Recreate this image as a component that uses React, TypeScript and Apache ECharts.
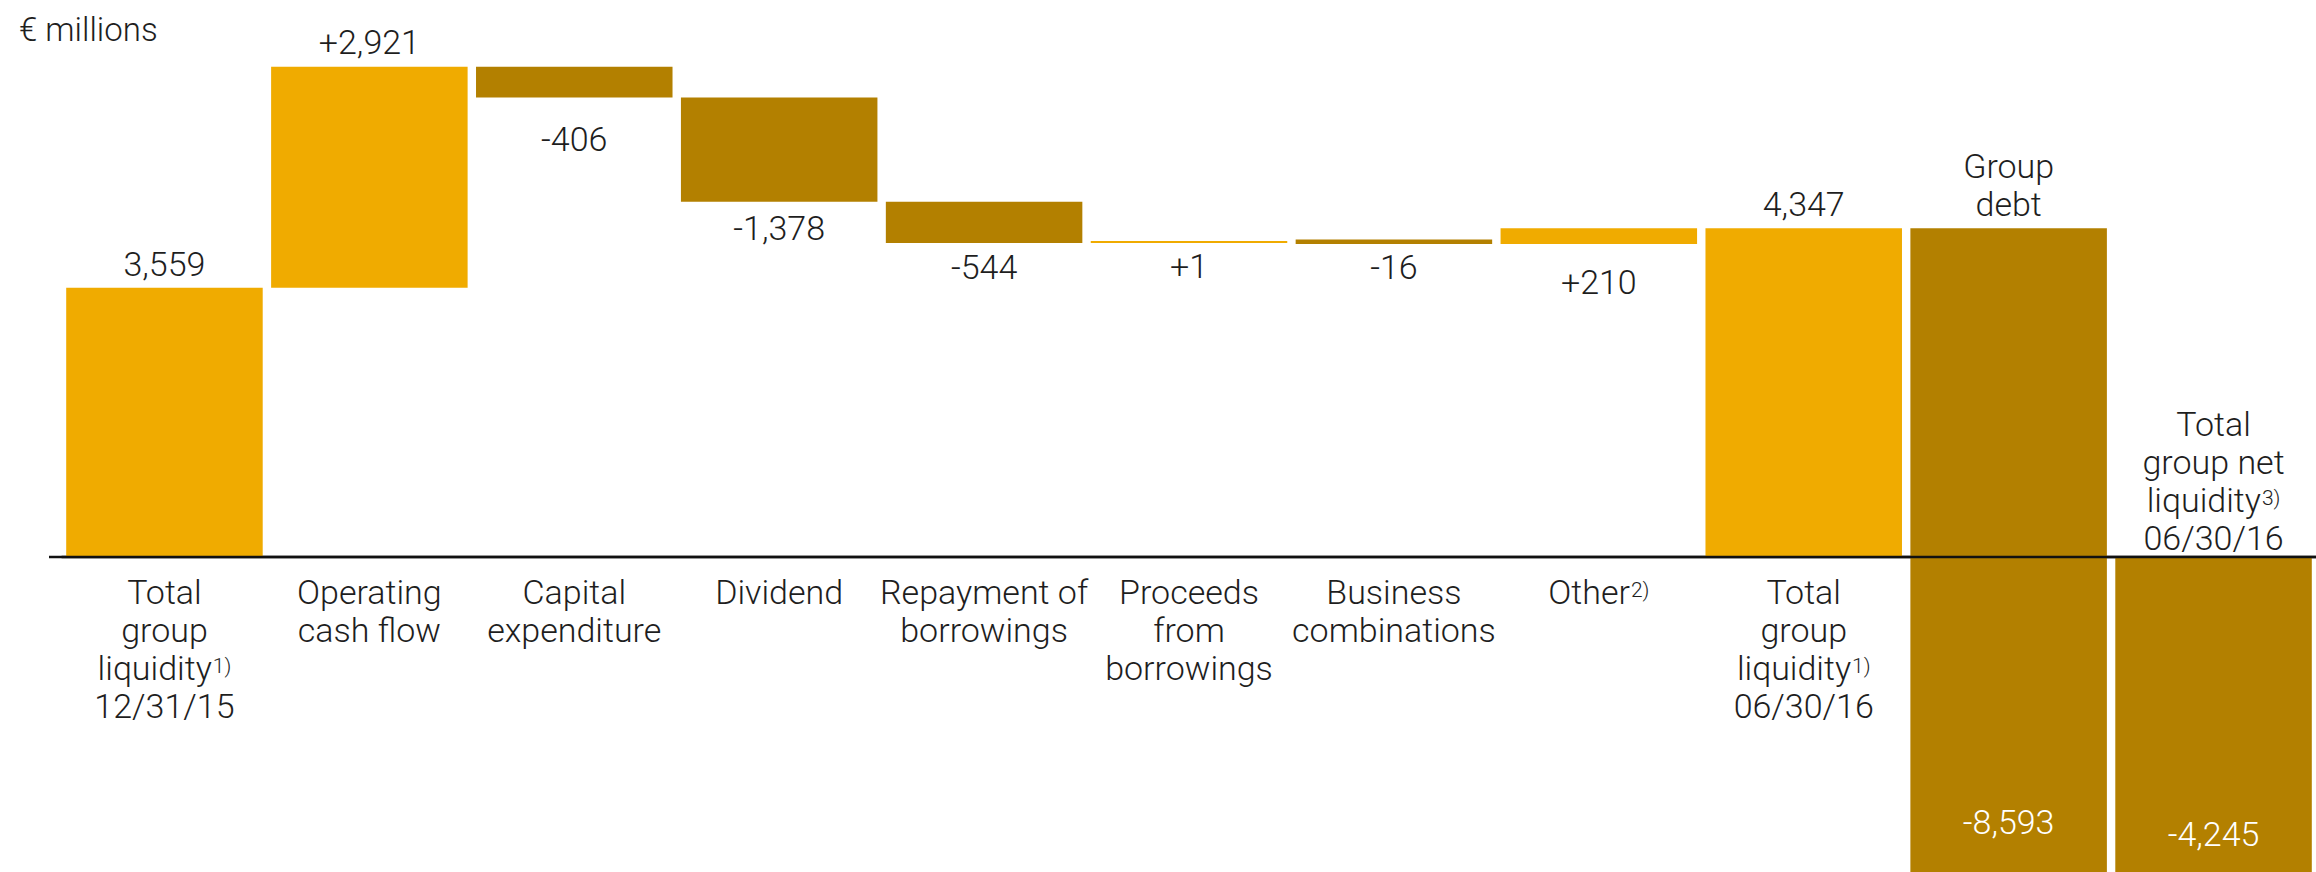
import React, { useEffect, useRef } from 'react';
import * as echarts from 'echarts';

// ---- data ----
const categoryNames = [
  'Total group liquidity 12/31/15',
  'Operating cash flow',
  'Capital expenditure',
  'Dividend',
  'Repayment of borrowings',
  'Proceeds from borrowings',
  'Business combinations',
  'Other',
  'Total group liquidity 06/30/16',
  'Group debt',
  'Total group net liquidity 06/30/16',
];
const axisLabels = [
  'Total\ngroup\nliquidity{s|1)}\n12/31/15',
  'Operating\ncash flow',
  'Capital\nexpenditure',
  'Dividend',
  'Repayment of\nborrowings',
  'Proceeds\nfrom\nborrowings',
  'Business\ncombinations',
  'Other{s|2)}',
  'Total\ngroup\nliquidity{s|1)}\n06/30/16',
  '',
  '',
];
const topLabels = ['', '', '', '', '', '', '', '', '', 'Group\ndebt', 'Total\ngroup net\nliquidity{s|3)}\n06/30/16'];
const values = [3559, 2921, -406, -1378, -544, 1, -16, 210, 4347, -8593, -4245];
const kinds = ['total', 'delta', 'delta', 'delta', 'delta', 'delta', 'delta', 'delta', 'total', 'delta', 'total'];

// ---- label placement / styling (not data) ----
const labelPlace = ['above', 'above', 'below', 'below', 'below', 'below', 'below', 'below', 'above', 'inside', 'inside'];
const labelGap = [5, 6, 22, 7, 5, 4, 4, 19, 5, 37, 25];
const minBarPx = [0, 0, 0, 0, 0, 2, 4.5, 0, 0, 0, 0];

const LIGHT = '#F0AB00';
const DARK = '#B38000';
const TEXT = '#1e1e1e';
const FONT = 'Roboto';
const FW = 300;
const FS = 34;
const LH = 38;

function fmt(v: number, kind: string) {
  const s = Math.abs(v).toLocaleString('en-US');
  if (v < 0) return '-' + s;
  return kind === 'delta' ? '+' + s : s;
}

export default function App() {
  const ref = useRef<HTMLDivElement>(null);
  useEffect(() => {
    if (!ref.current) return;
    const chart = echarts.init(ref.current, null, { renderer: 'svg' });

    let run = 0;
    const bars = values.map((v, i) => {
      let low: number, high: number;
      if (kinds[i] === 'total') {
        low = Math.min(0, v);
        high = Math.max(0, v);
        run = v;
      } else {
        const end = run + v;
        low = Math.min(run, end);
        high = Math.max(run, end);
        run = end;
      }
      return [i, low, high, v];
    });

    const rich = {
      s: { fontSize: 21, fontFamily: FONT, fontWeight: FW, fill: TEXT, color: TEXT, padding: [0, 0, 4, 1] },
    };

    chart.setOption({
      animation: false,
      title: {
        text: '€ millions',
        left: 14,
        top: 8,
        textStyle: { fontSize: 33, fontWeight: FW, fontFamily: FONT, color: TEXT },
      },
      grid: { left: 62, width: 2254, top: 27.5, height: 907.7, outerBoundsMode: 'none' },
      xAxis: {
        type: 'category',
        data: categoryNames,
        axisLine: { show: true, onZero: true, lineStyle: { color: '#111', width: 2.4 } },
        axisTick: { show: false },
        axisLabel: { show: false },
      },
      yAxis: { type: 'value', min: -5000, max: 7000, show: false },
      series: [
        {
          type: 'custom',
          clip: false,
          encode: { x: 0, y: [1, 2] },
          data: bars,
          renderItem: (params: any, api: any) => {
            const idx = params.dataIndex;
            const i = api.value(0);
            const low = api.value(1);
            const high = api.value(2);
            const v = api.value(3);
            const pTop = api.coord([i, high]);
            const pBot = api.coord([i, low]);
            const pZero = api.coord([i, 0]);
            const w = api.size([1, 0])[0] * 0.959;
            let y0 = pTop[1];
            const y1 = pBot[1];
            if (y1 - y0 < minBarPx[idx]) y0 = y1 - minBarPx[idx];
            const cx = pTop[0];
            const children: any[] = [
              {
                type: 'rect',
                shape: { x: cx - w / 2, y: y0, width: w, height: y1 - y0 },
                style: { fill: v >= 0 ? LIGHT : DARK },
              },
            ];
            const place = labelPlace[idx];
            const gap = labelGap[idx];
            const txtStyle = {
              fontSize: FS,
              fontWeight: FW,
              fontFamily: FONT,
              lineHeight: LH,
              align: 'center',
            };
            const label = fmt(values[idx], kinds[idx]);
            if (place === 'above') {
              children.push({ type: 'text', x: cx, y: y0 - gap, style: { ...txtStyle, text: label, fill: TEXT, verticalAlign: 'bottom' } });
            } else if (place === 'below') {
              children.push({ type: 'text', x: cx, y: y1 + gap, style: { ...txtStyle, text: label, fill: TEXT, verticalAlign: 'top' } });
            } else {
              children.push({ type: 'text', x: cx, y: Math.min(y1, 878) - gap, style: { ...txtStyle, text: label, fill: '#ffffff', verticalAlign: 'bottom' } });
            }
            if (topLabels[idx]) {
              children.push({
                type: 'text',
                x: cx,
                y: y0 - (idx === 10 ? 0 : 5),
                style: { ...txtStyle, text: topLabels[idx], fill: TEXT, verticalAlign: 'bottom', rich },
              });
            }
            if (axisLabels[idx]) {
              children.push({
                type: 'text',
                x: cx,
                y: pZero[1] + 16,
                style: { ...txtStyle, text: axisLabels[idx], fill: TEXT, verticalAlign: 'top', rich },
              });
            }
            return { type: 'group', children };
          },
        },
      ],
    });

    const y0 = chart.convertToPixel({ yAxisIndex: 0 }, 0) as number;
    chart.setOption({
      graphic: [
        {
          type: 'line',
          z: 100,
          shape: { x1: 49, y1: y0, x2: 2316, y2: y0 },
          style: { stroke: '#111', lineWidth: 2.4 },
        },
      ],
    });

    return () => chart.dispose();
  }, []);

  return (
    <div
      ref={ref}
      style={{ position: 'absolute', left: 0, top: 0, width: 2316, height: 872 }}
    />
  );
}
